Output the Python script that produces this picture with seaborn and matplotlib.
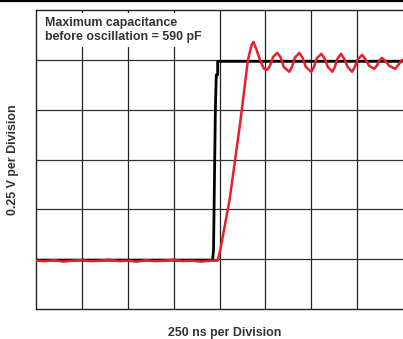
import numpy as np
import pandas as pd
import matplotlib
matplotlib.use('Agg')
import matplotlib.pyplot as plt
from matplotlib.lines import Line2D
import seaborn as sns

# time and level in scope divisions (250 ns/div, 0.25 V/div)
input_t = [0.0, 3.85, 3.87, 3.91, 3.93, 3.96, 3.96, 8.0]
input_v = [0.98, 0.98, 1.2, 4.0, 4.7, 4.7, 4.97, 4.97]

out_t = [0.0, 0.2, 0.4, 0.6, 0.8, 1.0, 1.2, 1.4, 1.6, 1.8, 2.0, 2.2, 2.4,
         2.6, 2.8, 3.0, 3.2, 3.4, 3.6, 3.8, 3.96,
         4.02, 4.22, 4.46, 4.62, 4.70, 4.74, 4.80, 4.90, 4.97, 5.04,
         5.10, 5.17, 5.26, 5.33, 5.40, 5.52, 5.58, 5.64, 5.74, 5.81, 5.88,
         6.00, 6.06, 6.12, 6.22, 6.29, 6.36, 6.46, 6.51, 6.57, 6.65, 6.72,
         6.79, 6.89, 6.95, 7.01, 7.11, 7.18, 7.26, 7.37, 7.43, 7.48, 7.54,
         7.61, 7.70, 7.83, 7.90, 7.98]
out_v = [0.97, 0.96, 0.98, 0.95, 0.97, 0.98, 0.96, 0.97, 0.99, 0.96, 0.97,
         0.95, 0.98, 0.96, 0.97, 0.99, 0.96, 0.97, 0.95, 0.97, 0.97,
         1.2, 2.19, 3.8, 5.0, 5.30, 5.36, 5.22, 4.95, 4.82, 4.80,
         4.88, 5.06, 5.14, 5.05, 4.86, 4.76, 4.86, 5.04, 5.14, 5.04, 4.86,
         4.76, 4.86, 5.03, 5.12, 5.03, 4.86, 4.76, 4.85, 5.02, 5.12, 5.02,
         4.86, 4.76, 4.86, 5.01, 5.10, 5.01, 4.88, 4.82, 4.88, 4.98, 5.04,
         4.98, 4.88, 4.82, 4.90, 5.0]

inp = pd.DataFrame({'t': input_t, 'v': input_v})
out = pd.DataFrame({'t': out_t, 'v': out_v})

sns.set_style('white')
plt.rcParams['font.family'] = ['Liberation Sans', 'DejaVu Sans']

fig = plt.figure(figsize=(4.03, 3.39), dpi=100)
ax = fig.add_axes([36 / 403, 1 - 309 / 339, 1 - 36 / 403, 299 / 339])

for x in range(1, 8):
    ax.axvline(x, color='#222222', lw=0.9, zorder=1)
for y in range(1, 6):
    ax.axhline(y, color='#333333', lw=0.9, zorder=1)

sns.lineplot(data=inp, x='t', y='v', color='black', lw=2.0, ax=ax,
             sort=False, estimator=None, zorder=3)
sns.lineplot(data=out, x='t', y='v', color='#e8202a', lw=1.8, ax=ax,
             sort=False, estimator=None, zorder=4)

ax.set_xlim(0, 8)
ax.set_ylim(0, 6)
ax.set_xticks([])
ax.set_yticks([])
ax.set_xlabel('')
ax.set_ylabel('')
for s in ax.spines.values():
    s.set_color('#222222')
    s.set_linewidth(1.0)
ax.spines['right'].set_visible(False)

ax.text(0.2, 5.86, 'Maximum capacitance\nbefore oscillation = 590 pF',
        fontsize=8.9, fontweight='bold', color='#333333', va='top', ha='left',
        linespacing=1.2, zorder=5,
        bbox=dict(facecolor='white', edgecolor='none', pad=3.0))

fig.text(225 / 403, 1 - 333 / 339, '250 ns per Division', fontsize=8.9,
         fontweight='bold', color='#333333', ha='center', va='center')
fig.text(13 / 403, 1 - 160 / 339, '0.25 V per Division', fontsize=8.9,
         fontweight='bold', color='#333333', ha='center', va='center',
         rotation=90)

fig.add_artist(Line2D([0, 1], [0.998, 0.998], color='black', lw=1.6,
                      transform=fig.transFigure))

fig.savefig('out.png', dpi=100)
